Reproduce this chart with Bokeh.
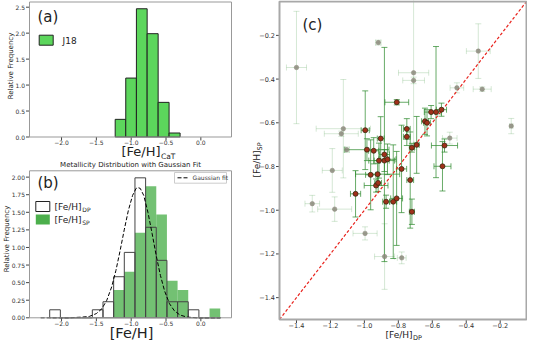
import math
from bokeh.plotting import figure
from bokeh.models import ColumnDataSource, Whisker, TeeHead, Label, Range1d
from bokeh.core.properties import value
from bokeh.layouts import row, column
from bokeh.embed import file_html
from bokeh.resources import INLINE

FONT = "DejaVu Sans"

# ---------------- Panel (a): J18 CaT metallicities ----------------
a_edges = [-1.230, -1.078, -0.925, -0.771, -0.613, -0.456, -0.298]
a_heights = [0.34, 1.135, 2.47, 1.99, 0.667, 0.077]
a_xticks = [-2.0, -1.5, -1.0, -0.5, 0.0]
a_xlabels = ["\u22122.0", "\u22121.5", "\u22121.0", "\u22120.5", "0.0"]
a_yticks = [0.0, 0.5, 1.0, 1.5, 2.0, 2.5]
a_ylabels = ["0.0", "0.5", "1.0", "1.5", "2.0", "2.5"]

# ---------------- Panel (b): DP / SP histograms + Gaussian fit ----------------
b_edges = [-2.170, -2.017, -1.864, -1.711, -1.558, -1.405, -1.252, -1.099, -0.946,
           -0.793, -0.640, -0.487, -0.334, -0.181, -0.028, 0.125, 0.278]
b_dp = [0.114, 0.0, 0.0, 0.0, 0.114, 0.228, 0.584, 0.930, 1.990, 1.287, 0.817,
        0.228, 0.228, 0.114, 0.0, 0.0]
b_sp = [0.0, 0.0, 0.0, 0.0, 0.0, 0.0, 0.394, 0.656, 1.210, 1.870, 1.470,
        0.527, 0.394, 0.0, 0.0, 0.131]
gauss_x = [-2.30, -1.90, -1.70, -1.60, -1.50, -1.42, -1.35, -1.28, -1.22, -1.16, -1.10,
           -1.04, -0.98, -0.93, -0.90, -0.87, -0.82, -0.76, -0.70, -0.64, -0.58, -0.52,
           -0.45, -0.38, -0.30, -0.20, -0.05, 0.30]
gauss_y = [0.00, 0.00, 0.01, 0.02, 0.06, 0.13, 0.25, 0.44, 0.67, 0.95, 1.25,
           1.53, 1.74, 1.84, 1.85, 1.84, 1.74, 1.50, 1.20, 0.88, 0.60, 0.38,
           0.20, 0.10, 0.04, 0.01, 0.00, 0.00]
b_yticks = [0.0, 0.25, 0.5, 0.75, 1.0, 1.25, 1.5, 1.75, 2.0]
b_ylabels = ["0.00", "0.25", "0.50", "0.75", "1.00", "1.25", "1.50", "1.75", "2.00"]

# ---------------- Panel (c): [Fe/H]_DP vs [Fe/H]_SP ----------------
good_dp = [-0.809, -0.995, -0.985, -0.945, -0.904, -0.882, -0.914, -0.882, -0.864,
           -0.750, -0.750, -0.720, -0.692, -0.643, -0.631, -0.607, -0.578, -0.546,
           -0.528, -0.540, -0.781, -0.963, -0.922, -1.052, -0.931, -0.919, -0.872,
           -0.830, -0.810, -0.730, -0.720]
good_sp = [-0.506, -0.634, -0.723, -0.728, -0.672, -0.745, -0.773, -0.773, -0.767,
           -0.628, -0.664, -0.714, -0.701, -0.593, -0.600, -0.551, -0.551, -0.540,
           -0.704, -0.799, -0.811, -0.838, -0.835, -0.925, -0.887, -0.875, -0.961,
           -0.961, -0.946, -0.862, -1.007]
good_dp_err = [0.070, 0.024, 0.130, 0.030, 0.020, 0.030, 0.060, 0.060, 0.050,
               0.020, 0.020, 0.015, 0.015, 0.020, 0.020, 0.040, 0.030, 0.030,
               0.077, 0.050, 0.030, 0.030, 0.130, 0.030, 0.070, 0.020, 0.020,
               0.020, 0.035, 0.020, 0.015]
good_sp_err = [0.012, 0.180, 0.050, 0.060, 0.100, 0.490, 0.080, 0.050, 0.070,
               0.047, 0.040, 0.020, 0.130, 0.060, 0.060, 0.030, 0.300, 0.030,
               0.030, 0.113, 0.200, 0.160, 0.050, 0.106, 0.030, 0.040, 0.030,
               0.260, 0.215, 0.220, 0.058]
poor_dp = [-1.400, -0.918, -0.710, -0.710, -0.329, -0.455, -0.306, -0.135, -0.497,
           -1.124, -1.136, -1.104, -1.189, -1.307, -1.175, -0.996, -0.881, -0.780]
poor_sp = [-0.347, -0.233, -0.371, -0.406, -0.272, -0.440, -0.446, -0.615, -0.670,
           -0.627, -0.650, -0.723, -0.818, -0.970, -0.995, -1.106, -1.212, -1.218]
poor_dp_err = [0.059, 0.016, 0.089, 0.064, 0.070, 0.040, 0.053, 0.010, 0.043,
               0.160, 0.100, 0.016, 0.059, 0.043, 0.100, 0.071, 0.059, 0.026]
poor_sp_err = [0.257, 0.011, 0.350, 0.015, 0.125, 0.023, 0.010, 0.035, 0.027,
               0.225, 0.012, 0.012, 0.100, 0.038, 0.056, 0.030, 0.150, 0.027]
c_lim = [-1.5, -0.045]
c_ticks = [-1.4, -1.2, -1.0, -0.8, -0.6, -0.4, -0.2]
c_labels = ["\u22121.4", "\u22121.2", "\u22121.0", "\u22120.8", "\u22120.6", "\u22120.4", "\u22120.2"]


class Panel:
    """A figure whose canvas is all frame; the visible axes box is drawn by hand."""

    def __init__(self, W, H, L, T, R, B, xr, yr):
        self.xr, self.yr = xr, yr
        self.L, self.T = L, T
        self.dx = (xr[1] - xr[0]) / (R - L)
        self.dy = (yr[1] - yr[0]) / (B - T)
        self.p = figure(width=W, height=H,
                        x_range=Range1d(xr[0] - L * self.dx, xr[0] + (W - L) * self.dx),
                        y_range=Range1d(yr[0] - (H - B) * self.dy, yr[1] + T * self.dy),
                        min_border=0, title=None, x_axis_type=None, y_axis_type=None,
                        toolbar_location=None, output_backend="svg")
        self.p.outline_line_color = None

    def X(self, px):
        return self.xr[0] + (px - self.L) * self.dx

    def Y(self, py):
        return self.yr[1] - (py - self.T) * self.dy

    def label(self, px, py, text, size, align="left", baseline="middle", angle=0.0, color="#222222"):
        self.p.add_layout(Label(x=self.X(px), y=self.Y(py), text=text, text_font=FONT,
                                text_font_size=size, text_align=align, text_baseline=baseline,
                                angle=angle, text_color=color))

    def axes(self, xt, xl, yt, yl, size, gap_x, gap_y, oc, ow, tick=3.5):
        p, xr, yr, dx, dy = self.p, self.xr, self.yr, self.dx, self.dy
        nx, ny = len(xt), len(yt)
        p.segment(x0=xt, y0=[yr[0]] * nx, x1=xt, y1=[yr[0] - tick * dy] * nx,
                  line_color="#444444", line_width=1)
        p.text(x=xt, y=[yr[0] - gap_x * dy] * nx, text=xl, text_align="center",
               text_baseline="top", text_font=value(FONT), text_font_size=value(size),
               text_color="#333333")
        p.segment(x0=[xr[0]] * ny, y0=yt, x1=[xr[0] - tick * dx] * ny, y1=yt,
                  line_color="#444444", line_width=1)
        p.text(x=[xr[0] - gap_y * dx] * ny, y=yt, text=yl, text_align="right",
               text_baseline="middle", text_font=value(FONT), text_font_size=value(size),
               text_color="#333333")
        p.quad(left=[xr[0]], right=[xr[1]], bottom=[yr[0]], top=[yr[1]], fill_color=None,
               line_color=oc, line_width=ow)


# ---------------- figure (a) ----------------
A = Panel(249, 161, 29, 1.5, 231, 136.5, (-2.46, 0.44), (0.0, 2.6))
pa = A.p
pa.quad(left=a_edges[:-1], right=a_edges[1:], bottom=0, top=a_heights,
        fill_color="#5cd65c", line_color="#222222", line_width=1)
A.axes(a_xticks, a_xlabels, a_yticks, a_ylabels, "6px", 3, 4.5, "#999999", 1)
pa.rect(x=[A.X(45.7)], y=[A.Y(39.7)], width=14, height=10, width_units="screen",
        height_units="screen", fill_color="#5cd65c", line_color="#222222", line_width=1)
A.label(62, 40, "J18", "9px")
A.label(37, 16, "(a)", "15px")
A.label(10.3, 65.5, "Relative Frequency", "7px", align="center", angle=math.pi / 2)
A.label(160, 151, "[Fe/H]", "13px", align="right")
A.label(160.5, 155.5, "CaT", "7.5px")

# ---------------- figure (b) ----------------
Bp = Panel(249, 180, 29, 9.3, 231, 156.3, (-2.46, 0.44), (0.0, 2.09))
pb = Bp.p
pb.quad(left=b_edges[:-1], right=b_edges[1:], bottom=0, top=b_sp,
        fill_color="#4caf4c", fill_alpha=0.78, line_color=None)
pb.quad(left=b_edges[:-1], right=b_edges[1:], bottom=0, top=b_dp,
        fill_color=None, line_color="#444444", line_width=1)
pb.line(gauss_x, gauss_y, line_color="black", line_dash="4 2", line_width=1)
Bp.axes(a_xticks, a_xlabels, b_yticks, b_ylabels, "6px", 3, 4.5, "#999999", 1)
# legend for the Gaussian fit (top right)
pb.quad(left=[Bp.X(174)], right=[Bp.X(226)], top=[Bp.Y(11)], bottom=[Bp.Y(21.7)],
        fill_color="white", line_color="#cccccc", line_width=1)
pb.line([Bp.X(177), Bp.X(189)], [Bp.Y(16.3), Bp.Y(16.3)], line_color="black",
        line_dash="4 2", line_width=1)
Bp.label(192, 16.3, "Gaussian fit", "6px", color="#333333")
# legend for the two histograms (top left)
pb.rect(x=[Bp.X(42.3)], y=[Bp.Y(45)], width=14, height=10, width_units="screen",
        height_units="screen", fill_color="white", line_color="#222222", line_width=1)
pb.rect(x=[Bp.X(42.3)], y=[Bp.Y(58)], width=14, height=10, width_units="screen",
        height_units="screen", fill_color="#4caf4c", line_color=None)
Bp.label(54, 45, "[Fe/H]", "9px")
Bp.label(81.8, 48, "DP", "6px")
Bp.label(54, 58, "[Fe/H]", "9px")
Bp.label(81.8, 61, "SP", "6px")
Bp.label(37, 21, "(b)", "15px")
Bp.label(130, 3.8, "Metallicity Distribution with Gaussian Fit", "7px", align="center")
Bp.label(6.5, 77.5, "Relative Frequency", "7px", align="center", angle=math.pi / 2)
Bp.label(131, 171.5, "[Fe/H]", "14.5px", align="center")

# ---------------- figure (c) ----------------
C = Panel(278, 341, 30, 1, 277, 319, tuple(c_lim), tuple(c_lim))
pc = C.p
GREEN = "#2e8b2e"


def errorbars(p, xs, ys, xe, ye, alpha):
    src = ColumnDataSource(dict(
        x=xs, y=ys,
        xl=[a - b for a, b in zip(xs, xe)], xu=[a + b for a, b in zip(xs, xe)],
        yl=[a - b for a, b in zip(ys, ye)], yu=[a + b for a, b in zip(ys, ye)]))
    for dim, base, lo, up in (("height", "x", "yl", "yu"), ("width", "y", "xl", "xu")):
        w = Whisker(source=src, base=base, lower=lo, upper=up, dimension=dim,
                    line_color=GREEN, line_alpha=alpha, line_width=1,
                    lower_head=TeeHead(size=6, line_color=GREEN, line_alpha=alpha, line_width=1),
                    upper_head=TeeHead(size=6, line_color=GREEN, line_alpha=alpha, line_width=1))
        w.level = "underlay"
        p.add_layout(w)
    return src


psrc = errorbars(pc, poor_dp, poor_sp, poor_dp_err, poor_sp_err, 0.2)
gsrc = errorbars(pc, good_dp, good_sp, good_dp_err, good_sp_err, 0.72)
pc.line(c_lim, c_lim, line_color="#e8221c", line_dash="3 2", line_width=1.2)
pc.scatter("x", "y", source=psrc, size=4.5, fill_color="#8c8a7c", fill_alpha=0.85,
           line_color="#8c8a7c", line_alpha=0.5)
pc.scatter("x", "y", source=gsrc, size=5, fill_color="#a0301a", line_color="#3a2a10",
           line_width=0.8)
C.axes(c_ticks, c_labels, c_ticks, c_labels, "6.5px", 3, 4.5, "#a8a8a8", 2)
C.label(53, 24, "(c)", "15px")
C.label(163, 334, "[Fe/H]", "9px", align="right")
C.label(163.5, 337, "DP", "6.5px")
C.label(7, 150, "[Fe/H]", "9px", align="right", angle=math.pi / 2)
C.label(10, 150, "SP", "6.5px", align="left", angle=math.pi / 2)

layout = row(column(pa, pb), pc)
open("out.html", "w").write(file_html(layout, INLINE))
